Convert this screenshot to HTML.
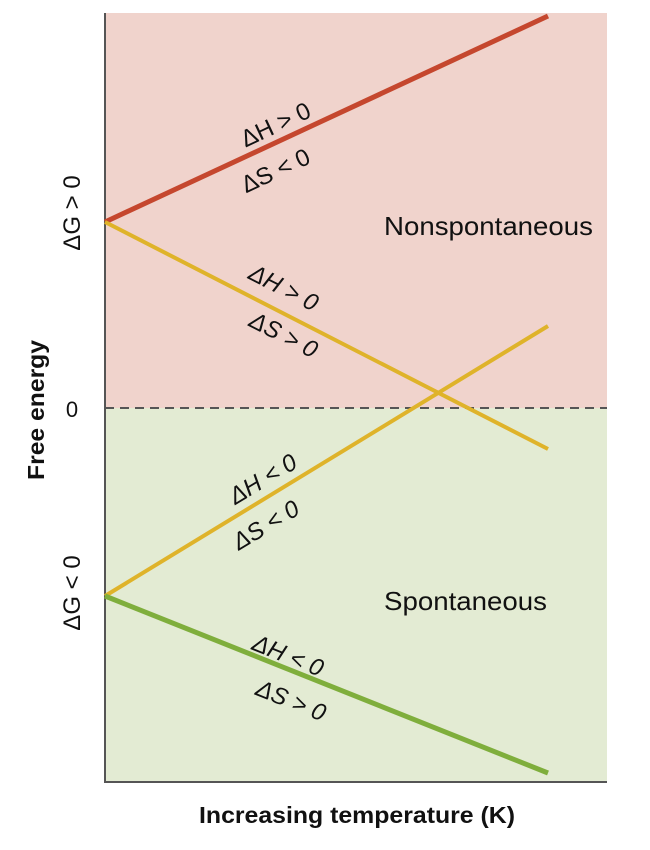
<!DOCTYPE html>
<html><head><meta charset="utf-8"><style>
html,body{margin:0;padding:0;background:#fff}
svg{display:block}
text{font-family:"Liberation Sans",sans-serif;fill:#111}
</style></head><body>
<svg width="650" height="850" viewBox="0 0 650 850">
<rect x="105" y="13" width="502" height="395" fill="#f0d3cc"/>
<rect x="105" y="408" width="502" height="375" fill="#e3ebd3"/>
<line x1="105" y1="408" x2="607" y2="408" stroke="#555" stroke-width="2" stroke-dasharray="9,6"/>
<line x1="105" y1="13" x2="105" y2="783" stroke="#555" stroke-width="2"/>
<line x1="105" y1="782" x2="607" y2="782" stroke="#555" stroke-width="2"/>
<line x1="105" y1="222" x2="548" y2="16" stroke="#c5472e" stroke-width="5"/>
<line x1="105" y1="222" x2="548" y2="449" stroke="#dfb32a" stroke-width="4"/>
<line x1="105" y1="596" x2="548" y2="326" stroke="#dfb32a" stroke-width="4"/>
<line x1="105" y1="596" x2="548" y2="773" stroke="#7fae3c" stroke-width="5"/>
<text x="0" y="0" font-size="24" text-anchor="middle" transform="translate(279,132) rotate(-25)">ΔH &gt; 0</text>
<text x="0" y="0" font-size="24" text-anchor="middle" transform="translate(279,178) rotate(-25)">ΔS &lt; 0</text>
<text x="0" y="0" font-size="24" text-anchor="middle" font-style="italic" transform="translate(280,295) rotate(27)">ΔH &gt; 0</text>
<text x="0" y="0" font-size="24" text-anchor="middle" font-style="italic" transform="translate(280,342) rotate(27)">ΔS &gt; 0</text>
<text x="0" y="0" font-size="24" text-anchor="middle" font-style="italic" transform="translate(267,486) rotate(-31)">ΔH &lt; 0</text>
<text x="0" y="0" font-size="24" text-anchor="middle" font-style="italic" transform="translate(270,532) rotate(-31)">ΔS &lt; 0</text>
<text x="0" y="0" font-size="24" text-anchor="middle" font-style="italic" transform="translate(285,663) rotate(22)">ΔH &lt; 0</text>
<text x="0" y="0" font-size="24" text-anchor="middle" font-style="italic" transform="translate(288,708) rotate(22)">ΔS &gt; 0</text>
<text x="384" y="235" font-size="26" textLength="209" lengthAdjust="spacingAndGlyphs">Nonspontaneous</text>
<text x="384" y="610" font-size="26" textLength="163" lengthAdjust="spacingAndGlyphs">Spontaneous</text>
<text x="72" y="417" font-size="22" text-anchor="middle">0</text>
<text x="0" y="0" font-size="24" text-anchor="middle" transform="translate(80,213) rotate(-90)">ΔG &gt; 0</text>
<text x="0" y="0" font-size="24" text-anchor="middle" transform="translate(80,593) rotate(-90)">ΔG &lt; 0</text>
<text x="0" y="0" font-size="23" font-weight="bold" text-anchor="middle" transform="translate(44,410) rotate(-90)" textLength="140" lengthAdjust="spacingAndGlyphs">Free energy</text>
<text x="199" y="823" font-size="23" font-weight="bold" textLength="316" lengthAdjust="spacingAndGlyphs">Increasing temperature (K)</text>
</svg>
</body></html>
